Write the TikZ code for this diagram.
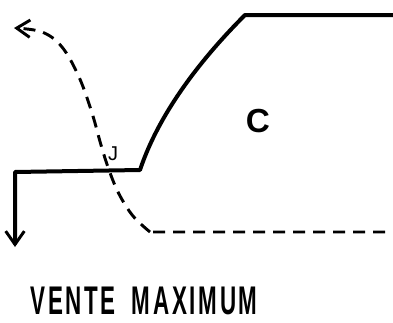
\documentclass[tikz,border=0pt]{standalone}
\usepackage{fontspec}
\setmainfont{Liberation Sans}
\newfontfamily\titlefont[LetterSpace=12,WordSpace=1.8]{Liberation Sans}
\usetikzlibrary{arrows.meta}
\begin{document}
\begin{tikzpicture}[x=0.75pt,y=-0.75pt,
  solidcurve/.style={line width=3pt,line join=round,line cap=round},
  dashcurve/.style={line width=2.2pt,dash pattern=on 9pt off 6pt},
  tip/.style={-{Straight Barb[length=10pt,width=13pt,line width=2.2pt]}},
  lbl/.style={inner sep=0pt,font=\bfseries}]
\useasboundingbox (0,0) rectangle (393,322);
% solid line
\coordinate (sA) at (15,247);
\coordinate (sB) at (15,172);
\coordinate (sC) at (140,170);
\coordinate (sD) at (245,15);
\coordinate (sE) at (393,15);
\draw[solidcurve,-{Straight Barb[length=10pt,width=14pt,line width=2.2pt]}]
  (sE) -- (sD) .. controls (205,55) and (160,110) .. (sC) -- (sB) -- (sA);
% dashed line
\coordinate (dEnd) at (385,232);
\coordinate (dTip) at (14,28);
\draw[dashcurve,tip] (dEnd) -- (150,232)
  plot[smooth,tension=0.6] coordinates {(150,232) (133,216) (119,194) (109,170) (101,145) (92,113) (79,77) (62,47) (42,32) (14,28)};
% labels
\node[inner sep=0pt,font=\fontsize{15}{15}\selectfont] (J) at (113,154) {J};
\node[lbl,font=\fontsize{25}{25}\selectfont\bfseries] (C) at (258,121) {C};
\node[lbl,xscale=0.56,font=\titlefont\fontsize{30}{30}\selectfont\bfseries] (title) at (144,301) {VENTE MAXIMUM};
\end{tikzpicture}
\end{document}
